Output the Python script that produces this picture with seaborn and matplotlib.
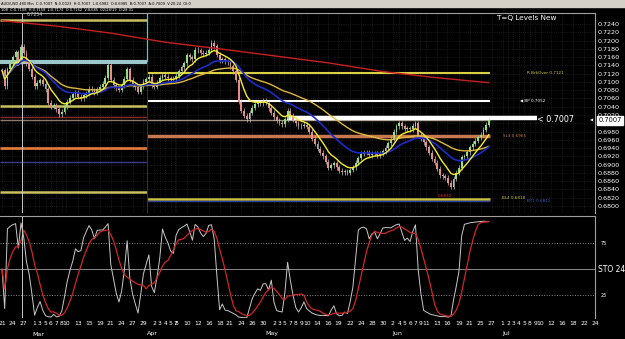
import numpy as np
import pandas as pd
import matplotlib
matplotlib.use("Agg")
import matplotlib.pyplot as plt
import seaborn as sns
from matplotlib.patches import Rectangle

# ---------------- data ----------------
# 480-min AUD/USD closes (two per business day, from 21 Feb 2019)
closes = [
    0.7128, 0.7090, 0.7131, 0.7145, 0.7160, 0.7172, 0.7150, 0.7185, 0.7170, 0.7145,
    0.7132, 0.7112, 0.7090, 0.7098, 0.7104, 0.7095, 0.7082, 0.7050, 0.7040, 0.7044,
    0.7034, 0.7022, 0.7028, 0.7040, 0.7052, 0.7062, 0.7070, 0.7075, 0.7064, 0.7060,
    0.7068, 0.7072, 0.7083, 0.7080, 0.7075, 0.7082, 0.7088, 0.7096, 0.7110, 0.7142,
    0.7105, 0.7092, 0.7085, 0.7081, 0.7092, 0.7108, 0.7130, 0.7105, 0.7094, 0.7087,
    0.7076, 0.7090, 0.7100, 0.7106, 0.7112, 0.7092, 0.7088, 0.7098, 0.7110, 0.7116,
    0.7112, 0.7109, 0.7105, 0.7108, 0.7115, 0.7126, 0.7135, 0.7145, 0.7165, 0.7160,
    0.7155, 0.7178, 0.7176, 0.7171, 0.7168, 0.7171, 0.7178, 0.7195, 0.7186, 0.7166,
    0.7152, 0.7155, 0.7150, 0.7147, 0.7138, 0.7126, 0.7105, 0.7052, 0.7030, 0.7018,
    0.7010, 0.7025, 0.7038, 0.7046, 0.7051, 0.7048, 0.7054, 0.7050, 0.7036, 0.7026,
    0.7014, 0.7006, 0.7001, 0.6997, 0.7010, 0.7030, 0.7018, 0.7008, 0.7000, 0.6993,
    0.6994, 0.6996, 0.6992, 0.6980, 0.6963, 0.6950, 0.6938, 0.6929, 0.6920, 0.6907,
    0.6892, 0.6898, 0.6903, 0.6894, 0.6885, 0.6882, 0.6884, 0.6880, 0.6887, 0.6894,
    0.6905, 0.6916, 0.6926, 0.6930, 0.6929, 0.6923, 0.6926, 0.6927, 0.6923, 0.6926,
    0.6932, 0.6941, 0.6952, 0.6962, 0.6980, 0.6993, 0.7000, 0.6993, 0.6986, 0.6988,
    0.6985, 0.6994, 0.7000, 0.6970, 0.6962, 0.6954, 0.6942, 0.6929, 0.6914, 0.6905,
    0.6890, 0.6874, 0.6872, 0.6868, 0.6856, 0.6846, 0.6866, 0.6880, 0.6892, 0.6918,
    0.6920, 0.6930, 0.6942, 0.6950, 0.6958, 0.6966, 0.6972, 0.6984, 0.6996, 0.7007,
]
# long moving average (red), read every 20 bars
red_ma_values = [0.7248, 0.7235, 0.7218, 0.7196, 0.7180, 0.7163, 0.7146, 0.7125, 0.7110, 0.7098]

# quarterly levels
q1_levels = [0.7250, 0.7148, 0.7042, 0.7015, 0.7008, 0.6940, 0.6906, 0.6834]
q1_colors = ["#c8c060", "#9cc8cc", "#c8c060", "#8b2a2a", "#8a7a6a", "#e07a3a", "#3a3a90", "#c8c060"]
q1_widths = [1.8, 3.0, 1.8, 1.0, 1.0, 2.0, 1.0, 1.8]
q2_levels = [0.7122, 0.7054, 0.7008, 0.6969, 0.6818, 0.6812]
q2_colors = ["#d8d040", "#ffffff", "#a09080", "#c87850", "#c8c040", "#3040a0"]
q2_widths = [1.5, 1.5, 1.0, 2.5, 1.8, 1.0]
current_price = 0.7007
marker_level = 0.7012

# date axis labels (2019)
feb_days = [21, 24, 27]
mar_days = [1, 3, 5, 6, 7, 8, 10, 13, 15, 19, 21, 24, 27, 29]
apr_days = [2, 3, 4, 5, 7, 8, 10, 12, 16, 18, 21, 24, 26, 30]
may_days = [2, 3, 5, 7, 8, 9, 10, 14, 16, 19, 22, 24, 28, 30]
jun_days = [2, 4, 5, 6, 7, 9, 11, 13, 16, 19, 21, 25, 27]
jul_days = [1, 2, 3, 4, 5, 8, 9, 10, 12, 16, 18, 22, 24]
month_names = ["Mar", "Apr", "May", "Jun", "Jul"]
price_ticks = [0.6800 + 0.002 * i for i in range(23)]

# ---------------- helpers ----------------
W, H = 625, 339
def fx(px): return px / W
def fy(py): return 1 - py / H
START = np.datetime64("2019-02-21")
def bidx(date):
    d = np.datetime64(date)
    n = np.busday_count(START, d)
    wd = (d.astype("datetime64[D]").view("int64") - 4) % 7  # 0=Mon
    return n - 0.15 if wd == 6 else float(n)

tick_pos, tick_lab = [], []
for mon, days in zip(["02", "03", "04", "05", "06", "07"],
                     [feb_days, mar_days, apr_days, may_days, jun_days, jul_days]):
    for d in days:
        tick_pos.append(bidx(f"2019-{mon}-{d:02d}"))
        tick_lab.append(str(d))
month_pos = [bidx(f"2019-{m}-01") + 0.6 for m in ["03", "04", "05", "06", "07"]]

sns.set_theme(style="dark")
plt.rcParams["font.family"] = ["DejaVu Sans"]

fig = plt.figure(figsize=(6.25, 3.39), dpi=100, facecolor="black")
ax = fig.add_axes([0, fy(213), fx(595), (213 - 13) / H])
ax2 = fig.add_axes([0, fy(318), fx(595), (318 - 216) / H])
XL = (-2 / 5.45, 593 / 5.45)
for a in (ax, ax2):
    a.set_facecolor("black")
    a.set_xlim(*XL)
    for sp in a.spines.values():
        sp.set_visible(False)
    a.spines["right"].set_visible(True)
    a.spines["right"].set_color("#a0a0a0")
    a.spines["right"].set_linewidth(0.8)
    a.spines["top"].set_visible(True)
    a.spines["top"].set_color("#a0a0a0")
    a.spines["top"].set_linewidth(0.8)

# ---------------- main panel ----------------
c = np.array(closes)
o = np.r_[c[0], c[:-1]]
b = np.arange(len(c)) / 2.0
wick = 0.0006
hi = np.maximum(o, c) + wick
lo = np.minimum(o, c) - wick
ax.set_ylim(0.6783, 0.72666)
ax.set_xticks(tick_pos)
ax.set_xticklabels([])
ax.set_yticks(price_ticks)
ax.yaxis.tick_right()
ax.set_yticklabels([f"{v:.4f}" for v in price_ticks])
ax.tick_params(axis="y", length=0, pad=2, labelsize=4.6, labelcolor="white")
ax.tick_params(axis="x", length=0)
ax.grid(True, color="#2c2c2c", lw=0.5, ls=":")

qb = bidx("2019-04-01") - 0.3
qe = b[-1] + 0.2
for lv, col, lw in zip(q1_levels, q1_colors, q1_widths):
    ax.hlines(lv, XL[0], qb, color=col, lw=lw, zorder=2)
for lv, col, lw in zip(q2_levels, q2_colors, q2_widths):
    ax.hlines(lv, qb, qe, color=col, lw=lw, zorder=2)
ax.hlines(marker_level, bidx("2019-05-06") + 0.3, 98.3, color="white", lw=3.2, zorder=2)
ax.vlines(qb, q1_levels[1], 0.72666, color="#40d0d0", lw=0.9, zorder=2)
ax.vlines(qb, 0.6783, q1_levels[1], color="#5a2020", lw=0.8, zorder=2)
ax.vlines(3.7, 0.6783, 0.72666, color="#c8c8c8", lw=0.7, zorder=2)

body = c - o
body = np.where(np.abs(body) < 0.00015, 0.00015, body)
up = c >= o
ax.vlines(b, lo, hi, color="#c0c0c0", lw=0.5, zorder=3)
ax.bar(b[up], body[up], bottom=o[up], width=0.34, color="#8ee07e", lw=0, zorder=4)
ax.bar(b[~up], body[~up], bottom=o[~up], width=0.34, color="#e88c8c", lw=0, zorder=4)

s = pd.Series(c)
df = pd.DataFrame({"b": b,
                   "fast": s.ewm(span=8).mean(),
                   "mid": s.ewm(span=24).mean(),
                   "slow": s.ewm(span=50).mean()})
sns.lineplot(data=df, x="b", y="slow", ax=ax, color="#e0b840", lw=1.0, zorder=5)
sns.lineplot(data=df, x="b", y="mid", ax=ax, color="#1c2cc8", lw=1.2, zorder=5)
sns.lineplot(data=df, x="b", y="fast", ax=ax, color="#f4ec30", lw=1.0, zorder=6)
red_k = np.r_[np.arange(0, 180, 20), len(c) - 1] / 2.0
sns.lineplot(x=red_k, y=red_ma_values, ax=ax, color="#c82020", lw=1.0, zorder=5)
ax.set_xlabel("")
ax.set_ylabel("")

# ---------------- stochastic ----------------
n = 12
ll = pd.Series(lo).rolling(n, min_periods=1).min()
hh = pd.Series(hi).rolling(n, min_periods=1).max()
k = 100 * (s - ll) / (hh - ll)
d = k.rolling(7, min_periods=1).mean()
ax2.set_ylim(2.9, 101)
for lv, ls in [(75, ":"), (25, ":"), (50, "-")]:
    ax2.axhline(lv, color="#8a8a8a", lw=0.7, ls=ls)
sns.lineplot(x=b, y=k.values, ax=ax2, color="#c8c8c8", lw=0.7)
sns.lineplot(x=b, y=d.values, ax=ax2, color="#d02828", lw=0.9)
ax2.vlines(3.7, 0, 101, color="#c8c8c8", lw=0.7)
ax2.set_yticks([])
ax2.set_xticks(tick_pos)
ax2.set_xticklabels(tick_lab)
ax2.tick_params(axis="x", length=0, pad=2.5, labelsize=4.3, labelcolor="white")
ax2.grid(False)
ax2.set_xlabel("")
ax2.set_ylabel("")
for lab, lv, sz, off in [("75", 75, 3.5, 4), ("STO 24", 50, 5.5, 2), ("25", 25, 3.5, 4)]:
    ax2.annotate(lab, xy=(1, lv), xycoords=("axes fraction", "data"),
                 xytext=(off, 0), textcoords="offset points",
                 color="white", fontsize=sz, va="center", annotation_clip=False)
for name, mp in zip(month_names, month_pos):
    ax2.annotate(name, xy=(mp, 0), xycoords=("data", "axes fraction"), xytext=(0, -16),
                 textcoords="offset pixels", color="white", fontsize=4.5, ha="center",
                 va="center", annotation_clip=False)

# ---------------- overlays / text ----------------
fig.patches.append(Rectangle((0, fy(7)), 1, 7 / H, transform=fig.transFigure,
                             color="#d4d0c8", zorder=0))
fig.text(fx(1), fy(3.6), "AUD/USD 480 Min  C:0.7007  N:0.0023  H:0.7007  L:0.6982  O:0.6985  "
         "B:0.7007  A:0.7009  V:20.24  OI:0", color="black", fontsize=2.6, va="center")
fig.text(fx(1), fy(10.3), "108  C:0.7108  H:0.7158  L:0.7174  O:0.7162  V:8,685  02/28/19  O:28:31",
         color="white", fontsize=2.6, va="center")
fig.text(fx(497), fy(18), "T=Q Levels New", color="white", fontsize=5.2, va="center")
fig.text(fx(27), fy(15), "0.7254", color="#d0d0d0", fontsize=3.3, va="center")
fig.text(fx(527), fy(73), "R BrkOver 0.7121", color="#d8d040", fontsize=3.0, va="center")
fig.text(fx(520), fy(101), "\u25c0 BP 0.7052", color="white", fontsize=3.0, va="center")
fig.text(fx(537), fy(120), "< 0.7007", color="white", fontsize=5.8, va="center")
fig.text(fx(503), fy(136), "SL3 0.6965", color="#c87850", fontsize=3.0, va="center")
fig.text(fx(502), fy(198), "BL4 0.6818", color="#c8c040", fontsize=3.0, va="center")
fig.text(fx(527), fy(201), "BT1 0.6811", color="#4060d0", fontsize=3.0, va="center")
fig.text(fx(438), fy(196), "0.6832", color="#e03030", fontsize=3.0, va="center")
fig.patches.append(Rectangle((fx(597), fy(124.5)), fx(26), 8.5 / H, transform=fig.transFigure,
                             color="white", zorder=10))
fig.text(fx(598.5), fy(120.3), f"{current_price:.4f}", color="black", fontsize=4.8,
         va="center", zorder=11)
fig.text(fx(590), fy(120), "\u25c0", color="white", fontsize=3, va="center")

fig.savefig("out.png", dpi=100, facecolor="black")
